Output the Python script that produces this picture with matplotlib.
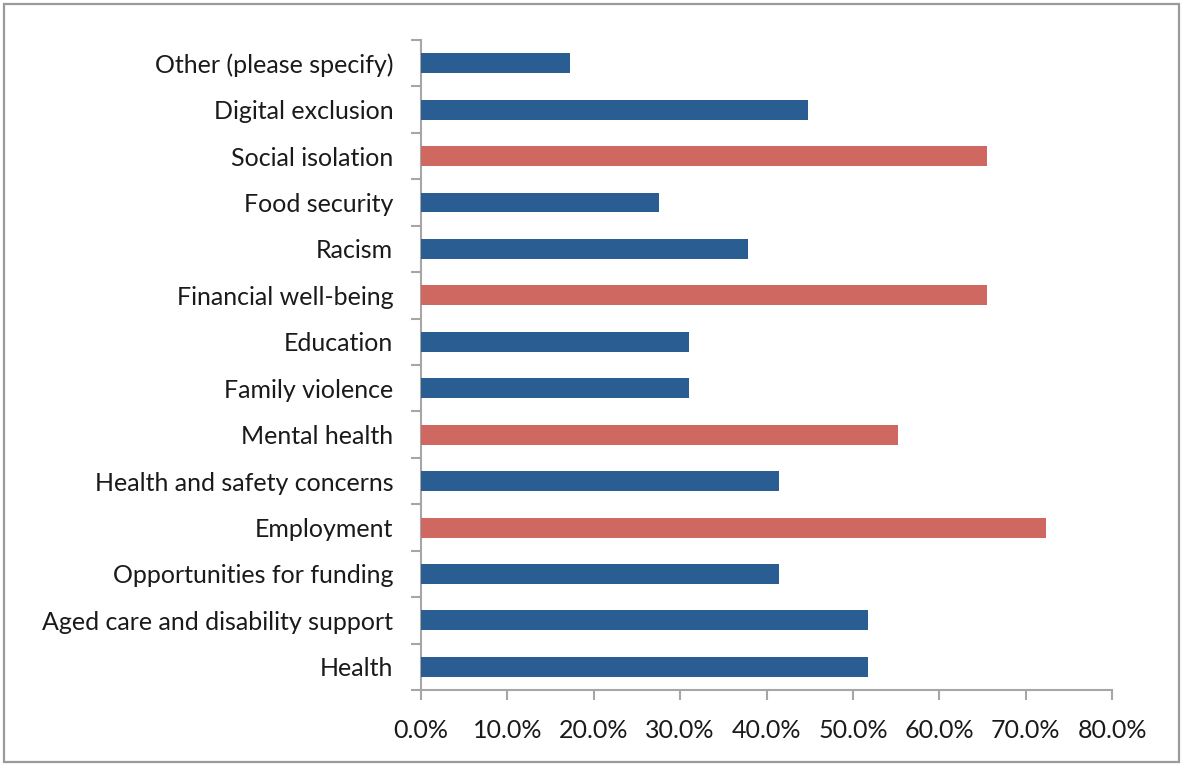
import matplotlib
matplotlib.use("Agg")
import matplotlib.pyplot as plt
from matplotlib.patches import Rectangle
from matplotlib.ticker import FixedLocator, PercentFormatter

categories = [
    "Health",
    "Aged care and disability support",
    "Opportunities for funding",
    "Employment",
    "Health and safety concerns",
    "Mental health",
    "Family violence",
    "Education",
    "Financial well-being",
    "Racism",
    "Food security",
    "Social isolation",
    "Digital exclusion",
    "Other (please specify)",
]
# share of 29 respondents
shares = [51.7, 51.7, 41.4, 72.4, 41.4, 55.2, 31.0, 31.0, 65.5, 37.9, 27.6, 65.5, 44.8, 17.2]
highlight = ["Employment", "Mental health", "Financial well-being", "Social isolation"]

BLUE = "#2A5E93"
RED = "#CF6861"
GREY = "#A6A6A6"

plt.rcParams["font.family"] = ["Lato", "DejaVu Sans"]

fig = plt.figure(figsize=(11.85, 7.65), dpi=100)
ax = fig.add_axes([0.3553, 0.098, 0.5831, 0.8497])

colours = [RED if c in highlight else BLUE for c in categories]
ys = range(len(categories))
ax.barh(ys, shares, height=0.43, color=colours, zorder=3)

ax.set_xlim(0, 80)
ax.set_ylim(-0.5, len(categories) - 0.5)
ax.xaxis.set_major_locator(FixedLocator(range(0, 81, 10)))
ax.xaxis.set_major_formatter(PercentFormatter(decimals=1))

ax.set_yticks(list(ys), categories)
ax.yaxis.set_minor_locator(FixedLocator([i - 0.5 for i in range(len(categories) + 1)]))
ax.tick_params(axis="y", which="major", length=0, pad=20, labelsize=18, colors="#1a1a1a")
ax.tick_params(axis="y", which="minor", length=7, width=1.5, color=GREY, direction="out")
ax.tick_params(axis="x", length=7, width=1.5, color=GREY, direction="out",
               pad=14, labelsize=18, labelcolor="#1a1a1a")
for lbl in ax.get_yticklabels():
    lbl.set_va("center_baseline")

for side in ("top", "right"):
    ax.spines[side].set_visible(False)
for side in ("left", "bottom"):
    ax.spines[side].set_color(GREY)
    ax.spines[side].set_linewidth(1.5)

# thin grey border round the whole chart area
fig.patches.append(Rectangle((4 / 1185, 3 / 765), 1175 / 1185, 758 / 765,
                             transform=fig.transFigure, fill=False,
                             edgecolor="#9A9A9A", linewidth=1.6))

fig.savefig("out.png", dpi=100)
